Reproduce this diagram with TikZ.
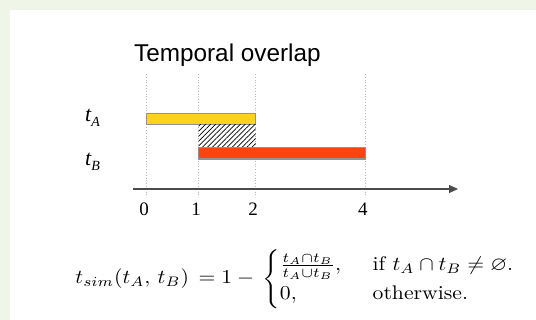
\documentclass[tikz,border=0pt]{standalone}
\usepackage{amsmath,amssymb}
\usepackage{fontspec}
\newfontfamily\sansfont{Liberation Sans}
\newfontfamily\timesfont{Liberation Serif}
\usetikzlibrary{arrows.meta, patterns.meta}

\definecolor{pagegreen}{RGB}{239,246,232}
\definecolor{barA}{RGB}{255,210,30}
\definecolor{barB}{RGB}{255,68,16}

\begin{document}
\begin{tikzpicture}[
  x=1pt, y=-1pt,
  bar/.style={draw=gray!85, line width=1.1pt},
  guide/.style={draw=gray!55, dotted, line width=0.8pt},
  tlabel/.style={font=\timesfont\fontsize{22}{22}\selectfont\itshape, anchor=base west, inner sep=0pt},
  tick/.style={font=\timesfont\fontsize{19}{19}\selectfont},
  axis/.style={-{Triangle[length=9pt,width=8pt]}, draw=black!70, line width=1.4pt},
  overlap/.style={pattern={Lines[angle=45,distance=3.5pt,line width=0.7pt]}}
]
  % page
  \fill[pagegreen] (0,0) rectangle (536,320);
  \fill[white] (10,10) rectangle (536,320);
  \useasboundingbox (0,0) rectangle (536,320);

  \node[font=\sansfont\fontsize{24.3}{24.3}\selectfont, anchor=base west, inner sep=0pt] (title) at (134,62) {Temporal overlap};

  % rows of the bars
  \coordinate (rowAtop) at (0,113.3);
  \coordinate (rowAbot) at (0,124.3);
  \coordinate (rowBtop) at (0,147.3);
  \coordinate (rowBbot) at (0,159);

  % time ticks
  \foreach \t/\x in {0/146.7, 1/198.7, 2/255.7, 4/365.3} {
    \coordinate (t\t) at (\x,0);
    \draw[guide] (\x,74) -- (\x,196);
    \node[tick] (tick\t) at (\x-2.5,209) {\t};
  }

  \coordinate (axisstart) at (133,189);
  \coordinate (axisend) at (458,189);
  \draw[axis] (axisstart) -- (axisend);

  \draw[bar, fill=barA] (t0 |- rowAtop) rectangle (t2 |- rowAbot);
  \fill[overlap] (t1 |- rowAbot) rectangle (t2 |- rowBtop);
  \draw[bar, fill=barB] (t1 |- rowBtop) rectangle (t4 |- rowBbot);

  \node[tlabel] (labelA) at (85,122) {t\raisebox{-4.5pt}{\fontsize{14}{14}\selectfont A}};
  \node[tlabel] (labelB) at (85,166) {t\raisebox{-4.5pt}{\fontsize{14}{14}\selectfont B}};

  \node[anchor=base west, inner sep=0pt, xscale=2.17, yscale=1.97] (tsim) at (75,284)
    {$t_{sim}(t_A,\,t_B)\, = 1 - \,\begin{cases}
       \frac{t_A\cap t_B}{t_A\cup t_B}, & \hspace{4.5pt}\text{if } t_A\cap t_B \neq \varnothing.\\
       0, & \hspace{4.5pt}\text{otherwise.}
     \end{cases}$};
\end{tikzpicture}
\end{document}
